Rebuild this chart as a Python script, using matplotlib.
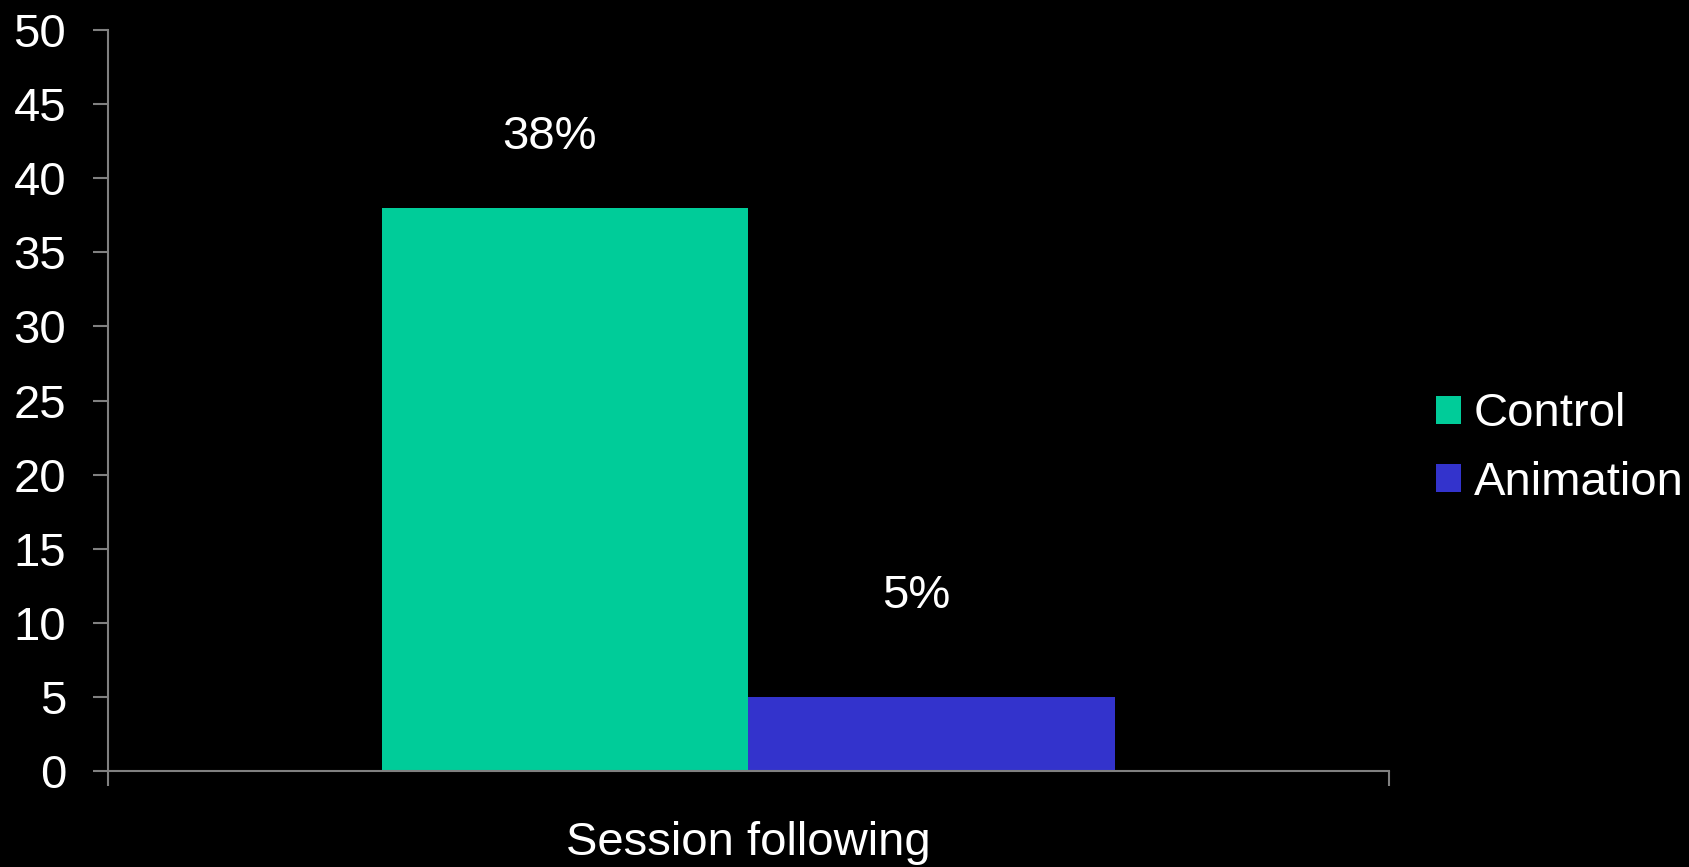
import matplotlib.pyplot as plt
import numpy as np

plt.rcParams['font.family'] = ['Liberation Sans', 'DejaVu Sans']

# data
category = 'Session following'
series = ['Control', 'Animation']
values = [38, 5]
labels = ['38%', '5%']
colors = ['#00CC99', '#3333CC']

# label placement (data units above bar top)
label_offsets = [3.95, 6.0]

fs = 34

fig = plt.figure(figsize=(16.89, 8.67), dpi=100, facecolor='black')
ax = fig.add_axes([0.0639, 0.1107, 0.7584, 0.8547], facecolor='black')

width = 0.286
xs = [-width / 2, width / 2]
for x, v, c, s, lab, off in zip(xs, values, colors, series, labels, label_offsets):
    ax.bar(x, v, width=width, color=c, label=s)
    ax.text(x - 0.012, v + off, lab, ha='center', va='baseline',
            color='white', fontsize=fs)

ax.set_xlim(-0.5, 0.5)
ax.set_ylim(0, 50)
ax.set_yticks(np.arange(0, 51, 5))

grey = '#808080'
for side in ['top', 'right']:
    ax.spines[side].set_visible(False)
for side in ['left', 'bottom']:
    ax.spines[side].set_color(grey)
    ax.spines[side].set_linewidth(1.5)

ax.tick_params(axis='y', colors=grey, labelcolor='white', labelsize=fs,
               length=11, width=1.5, pad=19, direction='out')
ax.set_xticks([-0.5, 0.5])
ax.set_xticklabels(['', ''])
ax.tick_params(axis='x', which='major', colors=grey, length=11, width=1.5, direction='out')
ax.set_xticks([0], [category], minor=True)
ax.tick_params(axis='x', which='minor', length=0, labelcolor='white', labelsize=fs, pad=36)

ax.legend(loc='center left', bbox_to_anchor=(0.850, 0.4825), bbox_transform=fig.transFigure,
          frameon=False, fontsize=fs, labelcolor='white', handlelength=0.54,
          handleheight=0.54, handletextpad=0.26, labelspacing=0.52, borderpad=0,
          borderaxespad=0)

plt.savefig('out.png', dpi=100, facecolor='black')
